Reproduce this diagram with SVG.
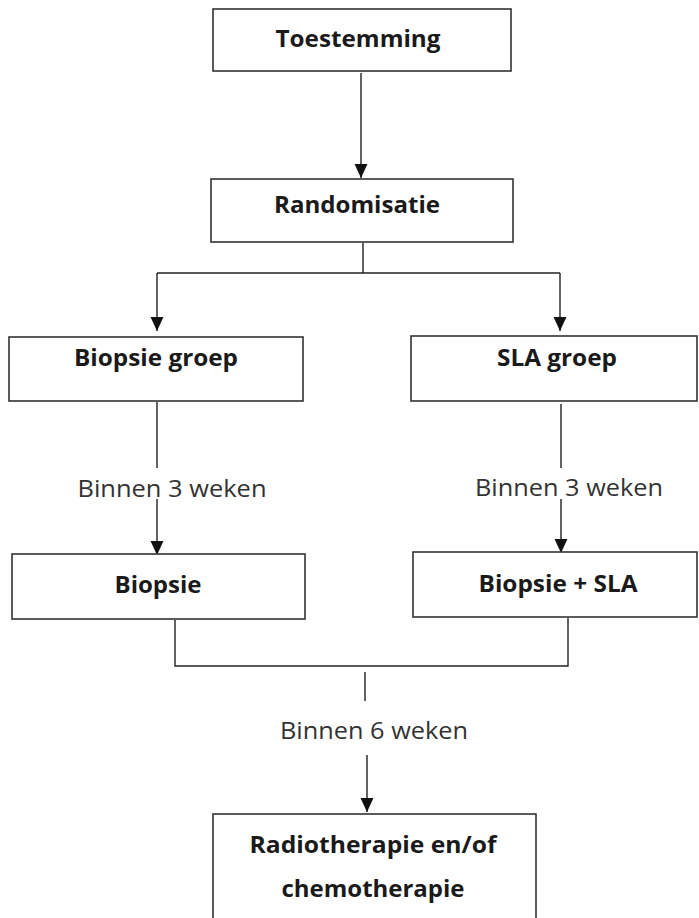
<svg xmlns="http://www.w3.org/2000/svg" width="699" height="918" viewBox="0 0 699 918">
<style>
.box{fill:#fff;stroke:#333;stroke-width:1.6}
.t{font-family:"Open Sans","Liberation Sans",sans-serif;font-weight:bold;font-size:24px;fill:#1a1a1a;text-anchor:middle}
.l{font-family:"Open Sans","Liberation Sans",sans-serif;font-size:24px;fill:#333;text-anchor:middle}
.c{fill:none;stroke:#222;stroke-width:1.4}
</style>
<defs>
<marker id="ah" markerUnits="userSpaceOnUse" markerWidth="14" markerHeight="14" viewBox="0 0 13 12" refX="13" refY="6" orient="auto">
<path d="M0,0 L13,6 L0,12 Z" fill="#111"/>
</marker>
</defs>
<rect width="699" height="918" fill="#fff"/>
<g id="connectors">
<line class="c" x1="361" y1="73" x2="361" y2="178" marker-end="url(#ah)"/>
<polyline class="c" points="363,243 363,273"/>
<polyline class="c" points="157,273 560,273"/>
<line class="c" x1="157" y1="273" x2="157" y2="331" marker-end="url(#ah)"/>
<line class="c" x1="560" y1="273" x2="560" y2="331" marker-end="url(#ah)"/>
<line class="c" x1="157" y1="402" x2="157" y2="468"/>
<line class="c" x1="157" y1="499" x2="157" y2="555" marker-end="url(#ah)"/>
<line class="c" x1="561" y1="404" x2="561" y2="468"/>
<line class="c" x1="561" y1="499" x2="561" y2="553" marker-end="url(#ah)"/>
<polyline class="c" points="175,620 175,666 568,666 568,618"/>
<line class="c" x1="365" y1="672" x2="365" y2="701"/>
<line class="c" x1="367" y1="755" x2="367" y2="812" marker-end="url(#ah)"/>
<text class="l" x="172" y="497" textLength="189" lengthAdjust="spacingAndGlyphs">Binnen 3 weken</text>
<text class="l" x="569" y="496" textLength="188" lengthAdjust="spacingAndGlyphs">Binnen 3 weken</text>
<text class="l" x="374" y="739" textLength="188" lengthAdjust="spacingAndGlyphs">Binnen 6 weken</text>
</g>
<g id="toestemming">
<rect class="box" x="213" y="9" width="298" height="62"/>
<text class="t" x="358" y="47" textLength="165" lengthAdjust="spacingAndGlyphs">Toestemming</text>
</g>
<g id="randomisatie">
<rect class="box" x="211" y="179" width="302" height="63"/>
<text class="t" x="357" y="213" textLength="166" lengthAdjust="spacingAndGlyphs">Randomisatie</text>
</g>
<g id="biopsie-groep">
<rect class="box" x="9" y="337" width="294" height="64"/>
<text class="t" x="156" y="366" textLength="164" lengthAdjust="spacingAndGlyphs">Biopsie groep</text>
</g>
<g id="sla-groep">
<rect class="box" x="411" y="336" width="286" height="65"/>
<text class="t" x="557" y="366" textLength="120" lengthAdjust="spacingAndGlyphs">SLA groep</text>
</g>
<g id="biopsie">
<rect class="box" x="12" y="554" width="293" height="65"/>
<text class="t" x="158" y="593" textLength="87" lengthAdjust="spacingAndGlyphs">Biopsie</text>
</g>
<g id="biopsie-sla">
<rect class="box" x="413" y="552" width="284" height="65"/>
<text class="t" x="558" y="592" textLength="159" lengthAdjust="spacingAndGlyphs">Biopsie + SLA</text>
</g>
<g id="therapie">
<rect class="box" x="213" y="814" width="323" height="112"/>
<text class="t" x="373" y="853" textLength="247" lengthAdjust="spacingAndGlyphs">Radiotherapie en/of</text>
<text class="t" x="373" y="897" textLength="183" lengthAdjust="spacingAndGlyphs">chemotherapie</text>
</g>
</svg>
